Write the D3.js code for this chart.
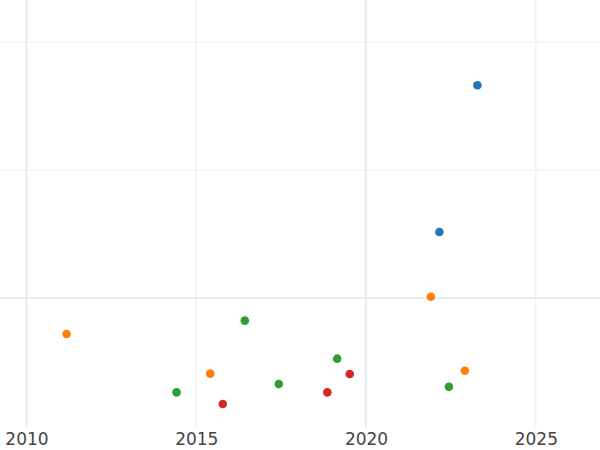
<!DOCTYPE html>
<html lang="en">
<head>
    <meta charset="UTF-8">
    <title>Scatter</title>
    <script src="https://d3js.org/d3.v7.min.js"></script>
    <style>
        body { margin: 0; background: #fff; }
    </style>
</head>
<body>
    <script>
        // series values
        const blueX = [2023.28, 2022.16];
        const blueY = [1.662, 0.516];
        const orangeX = [2011.18, 2015.41, 2021.91, 2022.91];
        const orangeY = [-0.281, -0.591, 0.010, -0.568];
        const greenX = [2014.42, 2016.43, 2017.43, 2019.15, 2022.44];
        const greenY = [-0.737, -0.177, -0.672, -0.474, -0.693];
        const redX = [2015.78, 2018.86, 2019.52];
        const redY = [-0.828, -0.737, -0.594];

        const xTicks = [2010, 2015, 2020, 2025];
        const xMajor = [2010, 2020];
        const yGrid = [0, 1, 2];
        const yMajor = [0];

        const seriesColors = ["#1f77b4", "#ff7f0e", "#2ca02c", "#d62728"];

        const width = 600;
        const height = 450;

        const svg = d3.select("body").append("svg")
            .attr("width", width)
            .attr("height", height);

        const x = d3.scaleLinear()
            .domain([2009.22, 2026.89])
            .range([0, width]);

        const y = d3.scaleLinear()
            .domain([-1, 2.328])
            .range([426, 0]);

        // horizontal grid
        svg.selectAll(".hgrid")
            .data(yGrid)
            .enter().append("line")
            .attr("class", "hgrid")
            .attr("x1", 0)
            .attr("x2", width)
            .attr("y1", d => y(d))
            .attr("y2", d => y(d))
            .style("stroke", "#ebebeb")
            .style("stroke-width", d => yMajor.includes(d) ? 2 : 1);

        // vertical grid
        svg.selectAll(".vgrid")
            .data(xTicks)
            .enter().append("line")
            .attr("class", "vgrid")
            .attr("x1", d => x(d))
            .attr("x2", d => x(d))
            .attr("y1", 0)
            .attr("y2", 427)
            .style("stroke", "#ebebeb")
            .style("stroke-width", d => xMajor.includes(d) ? 2 : 1);

        // x axis labels
        const xAxis = d3.axisBottom(x)
            .tickValues(xTicks)
            .tickFormat(d3.format("d"))
            .tickSize(0)
            .tickPadding(6);

        const gx = svg.append("g")
            .attr("transform", "translate(0,427)")
            .call(xAxis);
        gx.select(".domain").remove();
        gx.selectAll("text")
            .style("font-family", "DejaVu Sans, sans-serif")
            .style("font-size", "17px")
            .style("fill", "#444");

        const series = [
            { xs: blueX, ys: blueY },
            { xs: orangeX, ys: orangeY },
            { xs: greenX, ys: greenY },
            { xs: redX, ys: redY }
        ];

        series.forEach(function(s, i) {
            svg.append("g")
                .selectAll("circle")
                .data(s.xs.map((v, j) => [v, s.ys[j]]))
                .enter().append("circle")
                .attr("cx", d => x(d[0]))
                .attr("cy", d => y(d[1]))
                .attr("r", 4.3)
                .style("fill", seriesColors[i]);
        });
    </script>
</body>
</html>
